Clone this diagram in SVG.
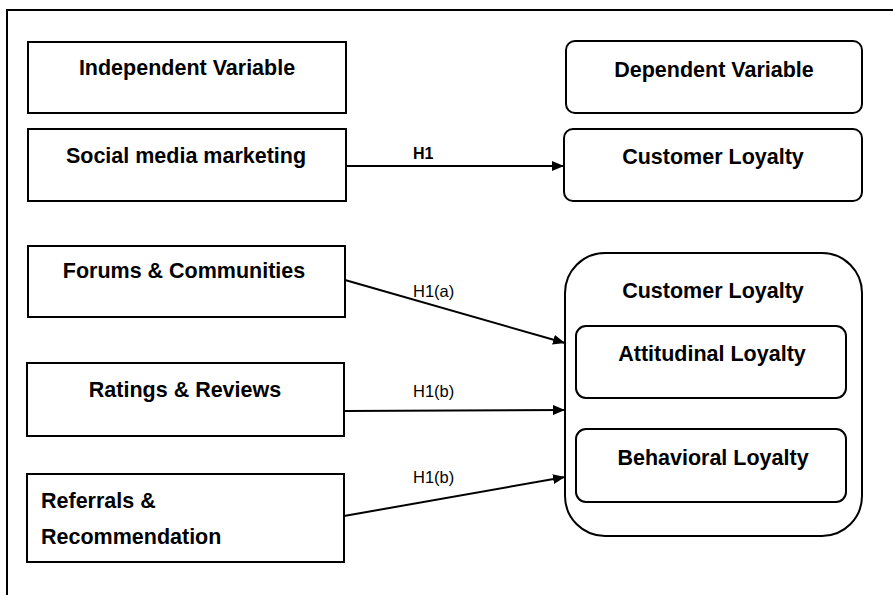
<svg xmlns="http://www.w3.org/2000/svg" width="893" height="595" viewBox="0 0 893 595">
<style>
.box{fill:#fff;stroke:#000;stroke-width:2}
.t{font-family:"Liberation Sans",Arial,sans-serif;font-weight:bold;font-size:21.5px;fill:#000}
.lbl{font-family:"Liberation Sans",Arial,sans-serif;font-size:16.5px;fill:#000}
.lblb{font-family:"Liberation Sans",Arial,sans-serif;font-size:16px;font-weight:bold;fill:#000}
.c{stroke:#000;stroke-width:2;fill:none;marker-end:url(#ah)}
</style>
<defs>
<marker id="ah" viewBox="0 0 10 10" refX="10" refY="5" markerWidth="6" markerHeight="5" orient="auto" markerUnits="strokeWidth" preserveAspectRatio="none">
<path d="M0,0 L10,5 L0,10 z" fill="#000"/>
</marker>
</defs>
<rect x="0" y="0" width="893" height="595" fill="#fff"/>
<path d="M7,600 L7,10 L900,10" fill="none" stroke="#000" stroke-width="2"/>

<g id="independent">
<rect class="box" x="28" y="42" width="318" height="71"/>
<text class="t" x="187" y="75" text-anchor="middle">Independent Variable</text>
</g>
<g id="smm">
<rect class="box" x="28" y="129" width="318" height="72"/>
<text class="t" x="186" y="163" text-anchor="middle">Social media marketing</text>
</g>
<g id="forums">
<rect class="box" x="28" y="246" width="317" height="71"/>
<text class="t" x="184" y="278" text-anchor="middle">Forums &amp; Communities</text>
</g>
<g id="ratings">
<rect class="box" x="27" y="363" width="317" height="73"/>
<text class="t" x="185" y="397" text-anchor="middle">Ratings &amp; Reviews</text>
</g>
<g id="referrals">
<rect class="box" x="27" y="474" width="317" height="88"/>
<text class="t" x="41" y="508">Referrals &amp;</text>
<text class="t" x="41" y="544">Recommendation</text>
</g>

<g id="dependent">
<rect class="box" x="566" y="41" width="296" height="72" rx="9"/>
<text class="t" x="714" y="77" text-anchor="middle">Dependent Variable</text>
</g>
<g id="loyalty1">
<rect class="box" x="564" y="129" width="298" height="72" rx="9"/>
<text class="t" x="713" y="164" text-anchor="middle">Customer Loyalty</text>
</g>
<g id="loyalty2">
<rect class="box" x="565" y="253" width="297" height="283" rx="40"/>
<text class="t" x="713" y="298" text-anchor="middle">Customer Loyalty</text>
</g>
<g id="attitudinal">
<rect class="box" x="576" y="326" width="270" height="72" rx="10"/>
<text class="t" x="712" y="361" text-anchor="middle">Attitudinal Loyalty</text>
</g>
<g id="behavioral">
<rect class="box" x="576" y="429" width="270" height="73" rx="10"/>
<text class="t" x="713" y="465" text-anchor="middle">Behavioral Loyalty</text>
</g>

<g id="connectors">
<line class="c" x1="346" y1="166" x2="564" y2="166"/>
<text class="lblb" x="413" y="159">H1</text>
<line class="c" x1="345" y1="280" x2="565" y2="343"/>
<text class="lbl" x="413" y="297">H1(a)</text>
<line class="c" x1="344" y1="411" x2="565" y2="410"/>
<text class="lbl" x="413" y="397">H1(b)</text>
<line class="c" x1="344" y1="516" x2="565" y2="477"/>
<text class="lbl" x="413" y="483">H1(b)</text>
</g>
</svg>
